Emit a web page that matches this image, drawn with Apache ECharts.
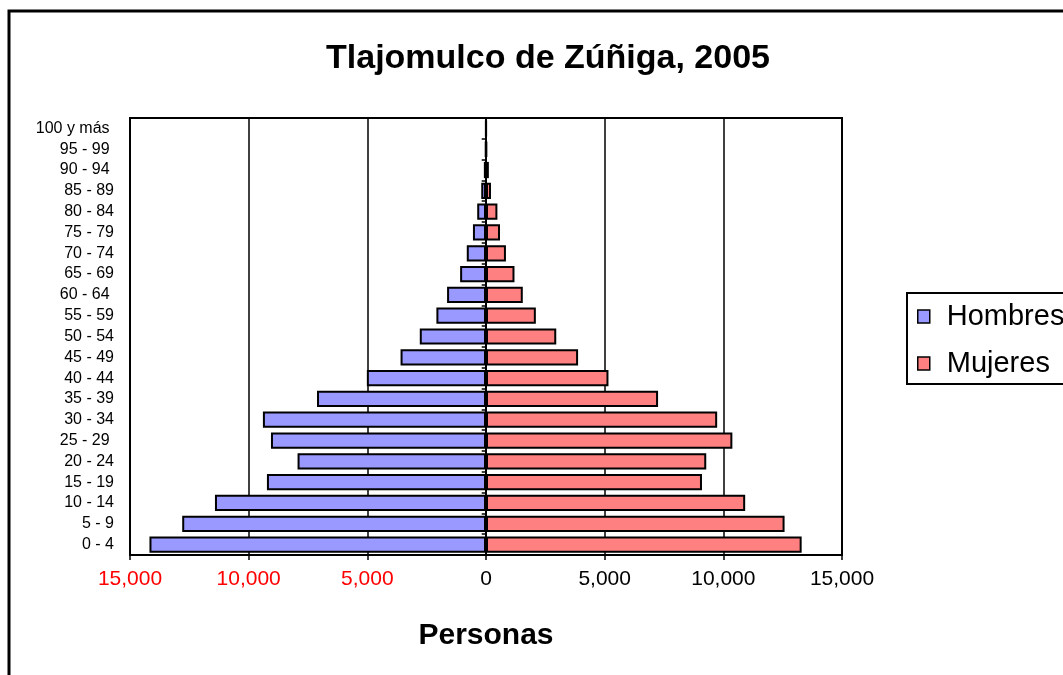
<!DOCTYPE html>
<html>
<head>
<meta charset="utf-8">
<script src="https://cdn.jsdelivr.net/npm/echarts@6/dist/echarts.min.js"></script>
<style>
  html, body { margin: 0; padding: 0; background: #fff; }
  #chart { width: 1063px; height: 675px; }
</style>
</head>
<body>
<div id="chart"></div>
<script>
// grupos de edad, de abajo hacia arriba
var grupos = ['0 - 4', '5 - 9', '10 - 14', '15 - 19', '20 - 24', '25 - 29 ', '30 - 34', '35 - 39',
    '40 - 44', '45 - 49', '50 - 54', '55 - 59', '60 - 64 ', '65 - 69', '70 - 74', '75 - 79',
    '80 - 84', '85 - 89', '90 - 94 ', '95 - 99 ', '100 y más '];

var hombres = [14180, 12800, 11420, 9230, 7940, 9060, 9400, 7120,
    5020, 3600, 2790, 2090, 1640, 1090, 810, 550,
    370, 200, 90, 25, 10];

var mujeres = [13300, 12580, 10920, 9100, 9280, 10380, 9740, 7250,
    5160, 3880, 2960, 2100, 1550, 1200, 840, 590,
    480, 210, 120, 30, 10];

var ticksX = [-15000, -10000, -5000, 0, 5000, 10000, 15000];

var FONT = 'Liberation Sans, Arial, sans-serif';

var chart = echarts.init(document.getElementById('chart'), null, { renderer: 'canvas' });

var option = {
    animation: false,
    backgroundColor: '#fff',
    textStyle: { fontFamily: FONT },
    title: {
        text: 'Tlajomulco de Zúñiga, 2005',
        left: 543,
        top: 37,
        textAlign: 'center',
        textStyle: { fontFamily: FONT, fontSize: 34, fontWeight: 'bold', color: '#000' }
    },
    legend: {
        orient: 'vertical',
        left: 907,
        top: 293,
        padding: [9, 12, 6, 10],
        itemGap: 18,
        itemWidth: 12,
        itemHeight: 13,
        borderColor: '#000',
        borderWidth: 2,
        data: ['Hombres', 'Mujeres'],
        icon: 'rect',
        itemStyle: { borderColor: '#000', borderWidth: 1.5 },
        textStyle: { fontFamily: FONT, fontSize: 29, color: '#000', padding: [0, 0, 0, 12] }
    },
    grid: {
        left: 130,
        right: 1063 - 842,
        top: 118,
        bottom: 675 - 555,
        show: true,
        borderColor: '#000',
        borderWidth: 2,
        containLabel: false
    },
    xAxis: {
        type: 'value',
        min: ticksX[0],
        max: ticksX[ticksX.length - 1],
        interval: 5000,
        name: 'Personas',
        nameLocation: 'middle',
        nameGap: 66,
        nameTextStyle: { fontFamily: FONT, fontSize: 30, fontWeight: 'bold', color: '#000' },
        axisLine: { onZero: false, lineStyle: { color: '#000', width: 2 } },
        axisTick: { show: true, length: 5, lineStyle: { color: '#000', width: 1.5 } },
        axisLabel: {
            margin: 14,
            fontFamily: FONT,
            fontSize: 21,
            color: function (v) { return Number(v) < 0 ? '#ff0000' : '#000'; },
            formatter: function (v) { return Math.abs(v).toLocaleString('en-US'); }
        },
        splitLine: { show: true, lineStyle: { color: '#000', width: 1.5 } }
    },
    yAxis: [{
        type: 'category',
        data: grupos,
        axisLine: { show: false },
        axisTick: { show: false },
        axisLabel: { margin: 16, fontFamily: FONT, fontSize: 16, color: '#000' }
    }, {
        type: 'category',
        data: grupos,
        position: 'left',
        offset: -(485.7 - 130),
        axisLine: { show: true, lineStyle: { color: '#000', width: 2 } },
        axisTick: { show: true, length: 4, lineStyle: { color: '#000', width: 1.5 } },
        axisLabel: { show: false }
    }],
    series: [{
        name: 'Hombres',
        type: 'bar',
        stack: 'pob',
        barCategoryGap: '22%',
        data: hombres.map(function (v) { return -v; }),
        itemStyle: { color: '#9999ff', borderColor: '#000', borderWidth: 2 }
    }, {
        name: 'Mujeres',
        type: 'bar',
        stack: 'pob',
        barCategoryGap: '22%',
        data: mujeres,
        itemStyle: { color: '#ff8080', borderColor: '#000', borderWidth: 2 }
    }],
    graphic: [{
        type: 'rect',
        silent: true,
        shape: { x: 9, y: 11, width: 1100, height: 700 },
        style: { fill: null, stroke: '#000', lineWidth: 3 }
    }]
};

chart.setOption(option);
</script>
</body>
</html>
